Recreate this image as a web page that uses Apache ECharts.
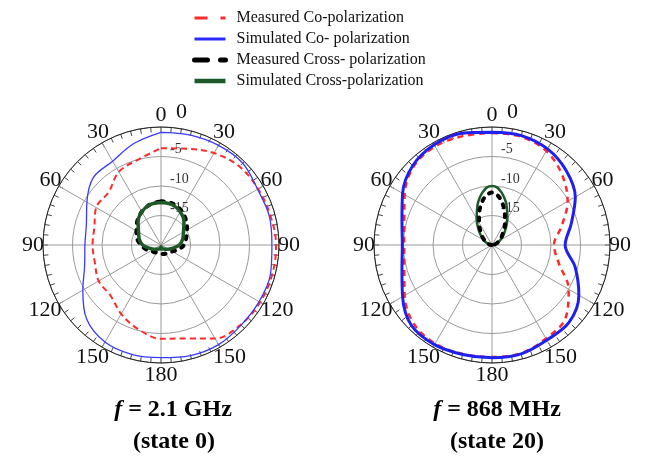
<!DOCTYPE html>
<html><head><meta charset="utf-8">
<script src="https://cdn.jsdelivr.net/npm/echarts@6/dist/echarts.min.js"></script>
<style>html,body{margin:0;padding:0;background:#fff}#c{width:645px;height:466px}</style>
</head><body><div id="c"></div>
<script>
// ---- data ----
const seriesNames = ['Measured Co-polarization', 'Simulated Co- polarization', 'Measured Cross- polarization', 'Simulated Cross-polarization'];
const angleTickLabels = ['0', '30', '60', '90', '120', '150', '180', '150', '120', '90', '60', '30', '0'];
const radialTickLabels = ['', '-15', '-10', '-5', '0']; // for -20, -15, -10, -5, 0 dB
const panelTitles = ['{i|f} = 2.1 GHz', '{i|f} = 868 MHz'];
const panelStates = ['(state 0)', '(state 20)'];

const angles = [0,15,30,45,60,75,90,105,120,135,150,165,180,195,210,225,240,255,270,285,300,315,330,345,360];

// f = 2.1 GHz (state 0)
const measCo21 = [-3.6,-3.1,-2.0,-1.2,-1.0,-0.8,-0.5,-0.5,-0.6,-0.9,-1.7,-3.6,-4.1,-5.2,-6.5,-7.9,-7.8,-8.4,-8.4,-8.3,-7.3,-7.4,-5.7,-5.0,-3.6];
const simCo21  = [-0.9,-0.7,-0.5,-0.4,-1.1,-1.0,-1.2,-0.8,-0.8,-0.8,-0.5,-0.6,-0.9,-0.8,-1.0,-2.2,-4.7,-6.6,-7.1,-6.9,-5.5,-3.8,-3.6,-2.2,-0.9];
const measX21  = [-12.6,-12.7,-13.2,-14.0,-14.9,-15.6,-16.1,-17.0,-17.8,-18.1,-18.3,-18.4,-18.5,-18.5,-18.5,-18.3,-18.0,-17.3,-16.6,-15.8,-15.2,-14.3,-13.5,-12.9,-12.6];
const simX21   = [-12.8,-12.9,-13.5,-14.5,-15.6,-16.2,-16.9,-17.9,-18.6,-19.0,-19.2,-19.3,-19.7,-19.3,-19.2,-19.0,-18.6,-17.9,-16.9,-16.2,-15.6,-14.5,-13.5,-12.9,-12.8];

// f = 868 MHz (state 20)
const measCo868 = [-1.0,-1.0,-1.6,-3.2,-5.2,-7.8,-9.5,-8.3,-5.0,-2.4,-1.7,-1.0,-1.0,-0.9,-0.7,-1.2,-2.9,-4.6,-5.1,-4.6,-2.9,-1.2,-0.7,-0.9,-1.0];
const simCo868  = [-0.9,-0.8,-1.2,-2.2,-3.7,-6.1,-7.6,-5.4,-3.0,-1.5,-1.4,-0.9,-0.9,-0.8,-0.5,-0.7,-2.5,-4.2,-4.8,-4.2,-2.5,-1.0,-0.4,-0.4,-0.9];
const crossAngles868 = [270,285,300,315,330,340,345,350,355,0,5,10,15,20,30,45,60,75,90];
const measX868 = [-20,-19.4,-18.6,-17.5,-15.6,-13.8,-12.9,-12.0,-11.4,-11.1,-11.4,-12.0,-12.9,-13.8,-15.6,-17.5,-18.6,-19.4,-20];
const simX868  = [-20,-19.3,-18.4,-17.0,-14.8,-12.8,-11.8,-10.9,-10.2,-10.0,-10.2,-10.9,-11.8,-12.8,-14.8,-17.0,-18.4,-19.3,-20];

// ---- chart ----
const toPolar = (vals, angs) => vals.map((v, i) => [v, angs[i]]);
const serif = 'Liberation Serif';

function angleAxis(idx) {
  return {
    polarIndex: idx, type: 'value', min: 0, max: 360, interval: 30,
    startAngle: 90, clockwise: true,
    axisLine: { show: true, lineStyle: { color: '#222', width: 1 } },
    axisTick: { show: true, inside: true, length: 5, lineStyle: { color: '#333' } },
    minorTick: { show: true, splitNumber: 6, length: 5, lineStyle: { color: '#444' } },
    splitLine: { show: true, lineStyle: { color: '#9a9a9a', width: 1 } },
    axisLabel: {
      margin: 12, fontFamily: serif, fontSize: 22, color: '#111', lineHeight: 22,
      padding: [-11, -13, -11, -13],
      formatter: v => angleTickLabels[Math.round(v / 30)]
    }
  };
}
function radiusAxis(idx) {
  return {
    polarIndex: idx, type: 'value', min: -20, max: 0, interval: 5,
    axisLine: { show: false }, axisTick: { show: false },
    splitLine: { show: true, lineStyle: { color: '#9a9a9a', width: 1 } },
    axisLabel: {
      margin: -9, align: 'left', verticalAlign: 'bottom', color: '#333',
      fontFamily: serif, fontSize: 14,
      formatter: v => {
        const t = radialTickLabels[Math.round((v + 20) / 5)];
        return v === 0 ? '{b|' + t + '}' : '{s|' + t + '}';
      },
      rich: {
        b: { fontFamily: serif, fontSize: 22, color: '#111', padding: [0, 0, 4, 6] },
        s: { fontFamily: serif, fontSize: 14, color: '#333' }
      }
    }
  };
}

function lineSeries(name, idx, data, style, z) {
  return {
    type: 'line', name: name, coordinateSystem: 'polar', polarIndex: idx,
    data: data, symbol: 'none', smooth: 0.35, z: z,
    lineStyle: style, itemStyle: { color: style.color }
  };
}

const redStyleL = { color: '#ff2a2a', width: 2, type: [6, 4] };
const blueStyleL = { color: '#3a3aff', width: 1.3 };
const blackStyle = { color: '#000', width: 4, type: [3, 7], cap: 'round' };
const greenStyleL = { color: '#1e5a28', width: 3.5 };
const redStyleR = { color: '#ff2a2a', width: 2.5, type: [6, 5] };
const blueStyleR = { color: '#1f1ff0', width: 3 };
const greenStyleR = { color: '#1e5a28', width: 2.5 };

const legendLineStyles = [
  { color: '#ff2a2a', width: 3, type: [13, 13] },
  { color: '#2a2aff', width: 3, type: 'solid' },
  { color: '#000', width: 5, type: [13, 13], cap: 'round' },
  { color: '#1e5a28', width: 4.5, type: 'solid' }
];

const option = {
  animation: false,
  backgroundColor: '#fff',
  legend: {
    orient: 'vertical', left: 187, top: 5, itemWidth: 31, itemHeight: 14, itemGap: 5,
    selectedMode: false,
    data: seriesNames.map((n, i) => ({ name: n, lineStyle: legendLineStyles[i] })),
    itemStyle: { opacity: 0 },
    textStyle: { fontFamily: serif, fontSize: 16, color: '#111', lineHeight: 16, padding: [0, 0, 0, 6] }
  },
  polar: [
    { center: [161, 245], radius: 118 },
    { center: [492, 245], radius: 118 }
  ],
  angleAxis: [angleAxis(0), angleAxis(1)],
  radiusAxis: [radiusAxis(0), radiusAxis(1)],
  series: [
    lineSeries(seriesNames[0], 0, toPolar(measCo21, angles), redStyleL, 3),
    lineSeries(seriesNames[1], 0, toPolar(simCo21, angles), blueStyleL, 4),
    lineSeries(seriesNames[2], 0, toPolar(measX21, angles), blackStyle, 3),
    lineSeries(seriesNames[3], 0, toPolar(simX21, angles), greenStyleL, 4),
    lineSeries(seriesNames[0], 1, toPolar(measCo868, angles), redStyleR, 3),
    lineSeries(seriesNames[1], 1, toPolar(simCo868, angles), blueStyleR, 4),
    lineSeries(seriesNames[2], 1, toPolar(measX868, crossAngles868), blackStyle, 5),
    lineSeries(seriesNames[3], 1, toPolar(simX868, crossAngles868), greenStyleR, 4)
  ],
  graphic: [
    { type: 'text', x: 173, y: 410, style: { text: panelTitles[0], align: 'center', verticalAlign: 'middle', font: 'bold 24px "Liberation Serif"', fill: '#000', rich: { i: { fontStyle: 'italic', fontWeight: 'bold', fontSize: 24, fontFamily: serif } } } },
    { type: 'text', x: 174, y: 442, style: { text: panelStates[0], align: 'center', verticalAlign: 'middle', font: 'bold 24px "Liberation Serif"', fill: '#000' } },
    { type: 'text', x: 497, y: 410, style: { text: panelTitles[1], align: 'center', verticalAlign: 'middle', font: 'bold 24px "Liberation Serif"', fill: '#000', rich: { i: { fontStyle: 'italic', fontWeight: 'bold', fontSize: 24, fontFamily: serif } } } },
    { type: 'text', x: 497, y: 442, style: { text: panelStates[1], align: 'center', verticalAlign: 'middle', font: 'bold 24px "Liberation Serif"', fill: '#000' } }
  ]
};
const chart = echarts.init(document.getElementById('c'), null, { renderer: 'canvas' });
chart.setOption(option);
</script></body></html>
